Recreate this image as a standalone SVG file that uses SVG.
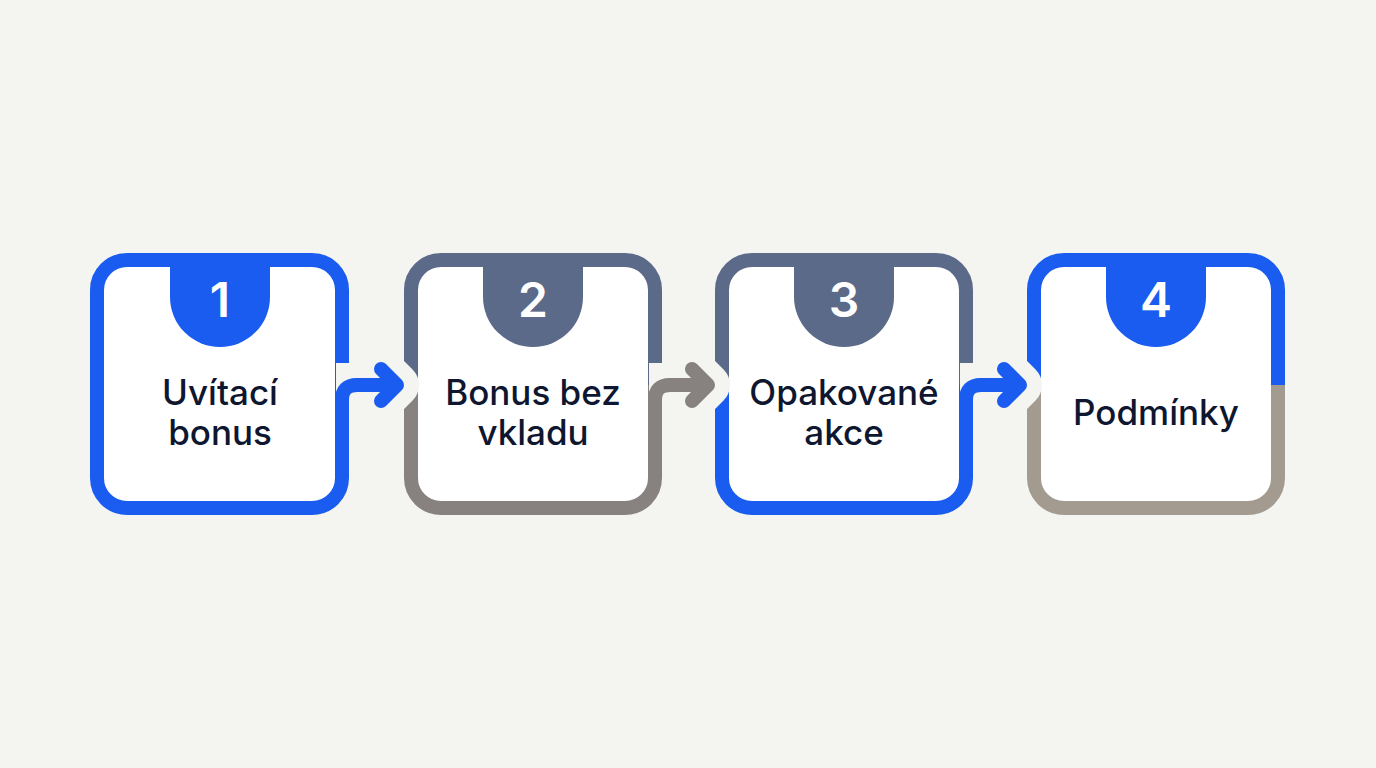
<svg xmlns="http://www.w3.org/2000/svg" width="1376" height="768" viewBox="0 0 1376 768">
<style>
.bg{fill:#f4f4f0}
.box{fill:#ffffff}
.b{fill:none;stroke-width:14;stroke-linecap:butt}
.blue{stroke:#1a5cf0}
.slate{stroke:#5b6a89}
.gray{stroke:#878280}
.beige{stroke:#a39a90}
.tb{fill:#1a5cf0}.ts{fill:#5b6a89}
.num{font-family:Inter,"Liberation Sans",sans-serif;font-weight:600;font-size:48px;fill:#ffffff;text-anchor:middle}
.lbl{font-family:Inter,"Liberation Sans",sans-serif;font-weight:500;font-size:35px;fill:#0e1630;text-anchor:middle}
.halo{fill:none;stroke:#f4f4f0;stroke-width:44;stroke-linecap:butt;stroke-linejoin:round}
.haloh{fill:none;stroke:#f4f4f0;stroke-width:44;stroke-linecap:round;stroke-linejoin:round}
.arr{fill:none;stroke-width:14;stroke-linecap:round;stroke-linejoin:round}
</style>
<rect class="bg" x="0" y="0" width="1376" height="768"/>

<g id="node1">
<rect class="box" x="97" y="260" width="245" height="248" rx="30"/>
<path class="tb" d="M170 262 V297 A50 50 0 0 0 270 297 V262 Z"/>
<path class="b blue" d="M97 385 V290 A30 30 0 0 1 127 260 H312 A30 30 0 0 1 342 290 V385"/>
<path class="b blue" d="M97 385 V478 A30 30 0 0 0 127 508 H312 A30 30 0 0 0 342 478 V385"/>
<text class="num" x="220" y="317">1</text>
<text class="lbl" x="220" y="405">Uvítací</text>
<text class="lbl" x="220" y="445">bonus</text>
</g>

<g id="node2">
<rect class="box" x="411" y="260" width="244" height="248" rx="30"/>
<path class="ts" d="M483 262 V297 A50 50 0 0 0 583 297 V262 Z"/>
<path class="b slate" d="M411 385 V290 A30 30 0 0 1 441 260 H625 A30 30 0 0 1 655 290 V385"/>
<path class="b gray" d="M411 385 V478 A30 30 0 0 0 441 508 H625 A30 30 0 0 0 655 478 V385"/>
<text class="num" x="533" y="317">2</text>
<text class="lbl" x="533" y="405">Bonus bez</text>
<text class="lbl" x="533" y="445">vkladu</text>
</g>

<g id="node3">
<rect class="box" x="722" y="260" width="244" height="248" rx="30"/>
<path class="ts" d="M794 262 V297 A50 50 0 0 0 894 297 V262 Z"/>
<path class="b slate" d="M722 385 V290 A30 30 0 0 1 752 260 H936 A30 30 0 0 1 966 290 V385"/>
<path class="b blue" d="M722 385 V478 A30 30 0 0 0 752 508 H936 A30 30 0 0 0 966 478 V385"/>
<text class="num" x="844" y="317">3</text>
<text class="lbl" x="844" y="405">Opakované</text>
<text class="lbl" x="844" y="445">akce</text>
</g>

<g id="node4">
<rect class="box" x="1034" y="260" width="244" height="248" rx="30"/>
<path class="tb" d="M1106 262 V297 A50 50 0 0 0 1206 297 V262 Z"/>
<path class="b blue" d="M1034 385 V290 A30 30 0 0 1 1064 260 H1248 A30 30 0 0 1 1278 290 V385"/>
<path class="b beige" d="M1034 385 V478 A30 30 0 0 0 1064 508 H1248 A30 30 0 0 0 1278 478 V385"/>
<text class="num" x="1156" y="317">4</text>
<text class="lbl" x="1156" y="425">Podmínky</text>
</g>

<g id="connectors">
<path class="halo" d="M336 385 H380"/>
<path class="haloh" d="M380 385 H397 M381 369 L397 385 L381 401"/>
<path class="arr blue" style="stroke:#1a5cf0" d="M342 412 V400 Q342 385 357 385 H397 M381 369 L397 385 L381 401"/>
<path class="halo" d="M649 385 H690"/>
<path class="haloh" d="M690 385 H708 M692 369 L708 385 L692 401"/>
<path class="arr" style="stroke:#878280" d="M655 412 V400 Q655 385 670 385 H708 M692 369 L708 385 L692 401"/>
<path class="halo" d="M960 385 H1002"/>
<path class="haloh" d="M1002 385 H1020 M1004 369 L1020 385 L1004 401"/>
<path class="arr" style="stroke:#1a5cf0" d="M966 412 V400 Q966 385 981 385 H1020 M1004 369 L1020 385 L1004 401"/>
</g>
</svg>
